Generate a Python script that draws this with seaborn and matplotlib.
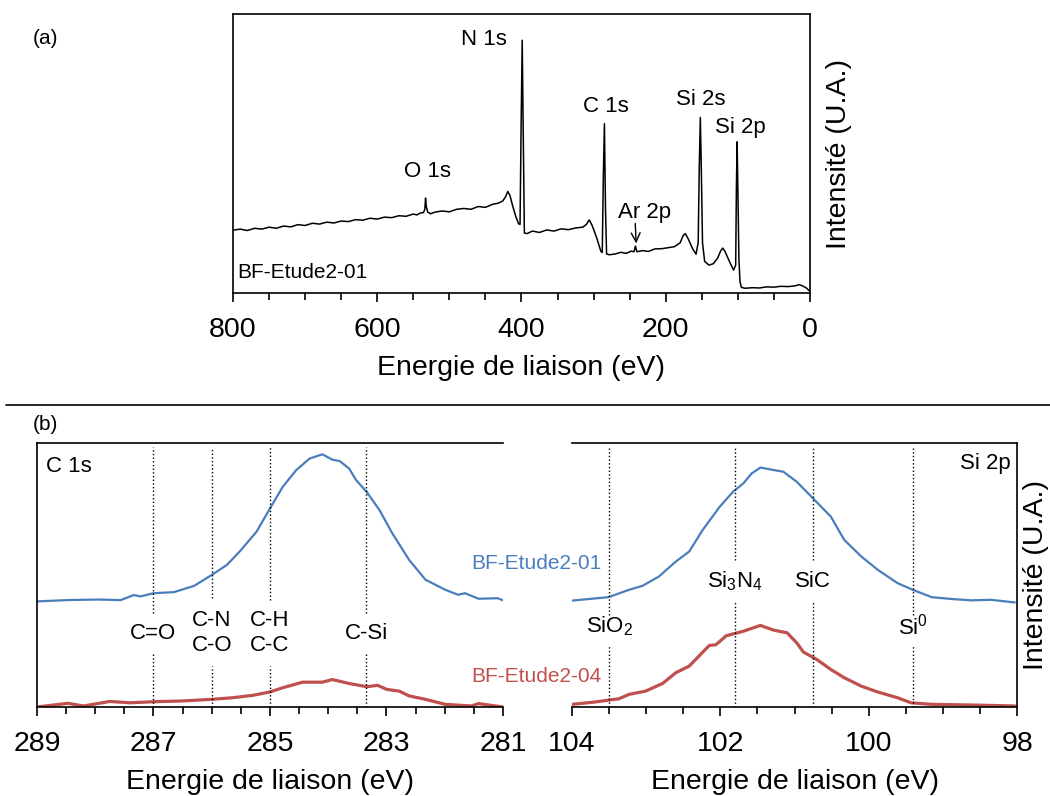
# XPS SPECTRA - SURVEY (a) AND HIGH RESOLUTION C 1s / Si 2p (b)

import matplotlib
matplotlib.use("Agg")
import matplotlib.pyplot as plt
from matplotlib.ticker import MultipleLocator
import seaborn as sns

# DATA

# survey spectrum, BF-Etude2-01 (intensity in arbitrary units)
survey_ev = [800, 790, 780, 770, 760, 750, 740, 730, 720, 710, 700, 690, 680,
             670, 660, 650, 640, 630, 620, 610, 600, 590, 580, 570, 560, 550,
             545, 540, 536, 534, 533, 532, 530, 526, 520, 510, 500, 490, 480,
             470, 460, 450, 440, 432, 426, 422, 419, 416, 412, 408, 404, 402,
             400.5, 399, 397.5, 396, 392, 385, 375, 365, 355, 345, 335, 325,
             315, 310, 306, 302, 296, 290, 288, 286.5, 285, 283.5, 282, 278,
             270, 262, 255, 248, 244, 242, 240, 232, 224, 215, 205, 195, 188,
             180, 176, 173, 169, 163, 158, 155, 153.5, 152, 150.5, 149, 146,
             140, 134, 128, 124, 121, 118, 112, 106, 103, 102, 101, 100, 98.5,
             97, 95, 90, 80, 70, 60, 50, 40, 30, 20, 15, 10, 5, 0]
survey_int = [0.225, 0.229, 0.224, 0.232, 0.229, 0.236, 0.232, 0.240, 0.237,
              0.245, 0.242, 0.250, 0.247, 0.254, 0.251, 0.258, 0.256, 0.263,
              0.261, 0.268, 0.265, 0.272, 0.270, 0.277, 0.275, 0.283, 0.280,
              0.287, 0.288, 0.300, 0.340, 0.310, 0.290, 0.284, 0.290, 0.294,
              0.291, 0.300, 0.303, 0.300, 0.310, 0.307, 0.318, 0.322, 0.330,
              0.345, 0.364, 0.350, 0.310, 0.275, 0.248, 0.246, 0.600, 0.906,
              0.550, 0.215, 0.213, 0.222, 0.217, 0.226, 0.222, 0.230, 0.227,
              0.233, 0.236, 0.246, 0.262, 0.242, 0.200, 0.150, 0.145, 0.420,
              0.607, 0.300, 0.140, 0.137, 0.140, 0.146, 0.142, 0.150, 0.148,
              0.168, 0.148, 0.152, 0.149, 0.158, 0.159, 0.163, 0.166, 0.180,
              0.205, 0.213, 0.195, 0.160, 0.139, 0.180, 0.450, 0.629, 0.420,
              0.180, 0.113, 0.100, 0.105, 0.125, 0.150, 0.161, 0.150, 0.115,
              0.082, 0.100, 0.380, 0.542, 0.380, 0.120, 0.040, 0.020, 0.017,
              0.019, 0.018, 0.022, 0.021, 0.024, 0.023, 0.026, 0.030, 0.025,
              0.018, 0.006]
survey_ticks = [800, 600, 400, 200, 0]

survey_labels = ["O 1s", "N 1s", "C 1s", "Si 2s", "Si 2p"]
survey_label_ev = [531, 452, 283, 151, 96]
survey_label_int = [0.434, 0.907, 0.67, 0.692, 0.595]

# C 1s region
c1s_ev_01 = [289, 288.47, 287.96, 287.56, 287.34, 287.22, 287.0, 286.65,
             286.3, 286.0, 285.74, 285.52, 285.23, 285.0, 284.78, 284.55,
             284.32, 284.1, 283.93, 283.8, 283.64, 283.52, 283.34, 283.12,
             282.9, 282.61, 282.33, 281.99, 281.77, 281.65, 281.42, 281.09,
             281.0]
c1s_int_01 = [0.400, 0.405, 0.407, 0.405, 0.424, 0.419, 0.431, 0.435, 0.459,
              0.500, 0.538, 0.589, 0.664, 0.752, 0.834, 0.897, 0.941, 0.957,
              0.937, 0.931, 0.903, 0.859, 0.815, 0.746, 0.658, 0.557, 0.482,
              0.444, 0.425, 0.431, 0.410, 0.412, 0.404]
c1s_ev_04 = [289, 288.47, 288.2, 287.75, 287.4, 287.0, 286.5, 286.0, 285.65,
             285.3, 285.0, 284.78, 284.44, 284.1, 283.93, 283.64, 283.34,
             283.15, 283.0, 282.78, 282.61, 282.33, 281.99, 281.54, 281.42,
             281.0]
c1s_int_04 = [0.000, 0.014, 0.004, 0.021, 0.016, 0.020, 0.023, 0.029, 0.035,
              0.044, 0.057, 0.073, 0.094, 0.094, 0.104, 0.089, 0.077, 0.082,
              0.067, 0.060, 0.042, 0.029, 0.010, 0.004, 0.013, 0.000]
c1s_ticks = [289, 287, 285, 283, 281]
c1s_bonds = ["C=O", "C-N\nC-O", "C-H\nC-C", "C-Si"]
c1s_bond_ev = [287.0, 286.0, 285.0, 283.35]

# Si 2p region
si_ev_01 = [104.0, 103.51, 103.23, 103.05, 102.83, 102.6, 102.42, 102.24,
            102.01, 101.83, 101.69, 101.58, 101.46, 101.33, 101.15, 100.97,
            100.75, 100.51, 100.33, 100.1, 99.88, 99.61, 99.39, 99.15, 98.88,
            98.61, 98.35, 98.03]
si_int_01 = [0.403, 0.416, 0.444, 0.459, 0.494, 0.551, 0.589, 0.670, 0.758,
             0.815, 0.847, 0.884, 0.907, 0.900, 0.891, 0.853, 0.790, 0.721,
             0.633, 0.570, 0.520, 0.469, 0.442, 0.416, 0.409, 0.404, 0.406,
             0.396]
si_ev_04 = [104.0, 103.69, 103.51, 103.37, 103.23, 103.01, 102.78, 102.6,
            102.42, 102.15, 102.06, 101.92, 101.69, 101.46, 101.28, 101.1,
            100.97, 100.88, 100.7, 100.51, 100.33, 100.1, 99.88, 99.61, 99.43,
            99.15, 98.7, 98.03]
si_int_04 = [0.010, 0.019, 0.026, 0.031, 0.048, 0.060, 0.089, 0.130, 0.155,
             0.233, 0.236, 0.270, 0.287, 0.309, 0.291, 0.281, 0.243, 0.208,
             0.180, 0.142, 0.111, 0.079, 0.057, 0.035, 0.016, 0.010, 0.008,
             0.004]
si_ticks = [104, 102, 100, 98]
si_bonds = ["SiO$_2$", "Si$_3$N$_4$", "SiC", "Si$^0$"]
si_bond_ev = [103.5, 101.8, 100.75, 99.4]

# STYLE

sns.set_style("ticks")
plt.rcParams['font.family'] = ['Liberation Sans', 'DejaVu Sans']
plt.rcParams['mathtext.fontset'] = 'custom'
plt.rcParams['mathtext.rm'] = 'Liberation Sans'
plt.rcParams['mathtext.it'] = 'Liberation Sans:italic'
plt.rcParams['text.color'] = 'black'
plt.rcParams['axes.labelcolor'] = 'black'
plt.rcParams['xtick.color'] = 'black'
plt.rcParams['axes.edgecolor'] = 'black'

blue = '#4a7ebb'
red = '#c0504d'

fig = plt.figure(figsize=(10.5, 7.96), dpi=100)

ax_a = fig.add_axes([0.2219, 0.6319, 0.5495, 0.3505])
ax_c = fig.add_axes([0.0352, 0.1118, 0.4438, 0.3317])
ax_s = fig.add_axes([0.5448, 0.1118, 0.4238, 0.3317])


def style_axis(ax, ticks, minor):
    ax.set_xticks(ticks)
    ax.xaxis.set_minor_locator(MultipleLocator(minor))
    ax.tick_params(axis='x', which='both', direction='out', width=1.2,
                   labelsize=20.5, pad=10.5, colors='black')
    ax.tick_params(axis='x', which='major', length=6.5)
    ax.tick_params(axis='x', which='minor', length=5)
    ax.set_yticks([])
    ax.set_ylim(0, 1)
    ax.set_xlabel('Energie de liaison (eV)', fontsize=20.5, labelpad=9)
    for s in ax.spines.values():
        s.set_linewidth(1.2)
        s.set_color('black')


# GRAPH (a) - SURVEY

sns.lineplot(x=survey_ev, y=survey_int, ax=ax_a, color='black', lw=1.1)
style_axis(ax_a, survey_ticks, 50)
ax_a.set_xlim(800, 0)
ax_a.yaxis.set_label_position('right')
ax_a.set_ylabel('Intensité (U.A.)', fontsize=20.5, labelpad=11.5)

for lab, xe, yi in zip(survey_labels, survey_label_ev, survey_label_int):
    ax_a.text(xe, yi, lab, ha='center', va='center', fontsize=16)

ax_a.annotate('Ar 2p', xy=(241, 0.178), xytext=(229, 0.287),
              ha='center', va='center', fontsize=16,
              arrowprops=dict(arrowstyle='->', color='black', lw=1,
                              shrinkA=0, shrinkB=0,
                              patchA=None, relpos=(0.32, 0.0)))
ax_a.text(794, 0.075, 'BF-Etude2-01', ha='left', va='center', fontsize=15)

# GRAPH (b) - C 1s

sns.lineplot(x=c1s_ev_01, y=c1s_int_01, ax=ax_c, color=blue, lw=1.6)
sns.lineplot(x=c1s_ev_04, y=c1s_int_04, ax=ax_c, color=red, lw=2.3)
style_axis(ax_c, c1s_ticks, 0.5)
ax_c.set_xlim(289, 281)
ax_c.spines['right'].set_visible(False)
ax_c.text(288.85, 0.912, 'C 1s', ha='left', va='center', fontsize=16)

c1s_gap_lo = [0.205, 0.155, 0.155, 0.205]
c1s_gap_hi = [0.356, 0.413, 0.406, 0.356]
c1s_text_y = [0.28, 0.28, 0.28, 0.28]
for lab, xe, lo, hi, ty in zip(c1s_bonds, c1s_bond_ev, c1s_gap_lo,
                               c1s_gap_hi, c1s_text_y):
    ax_c.plot([xe, xe], [hi, 0.985], color='black', ls=':', lw=1)
    ax_c.plot([xe, xe], [0, lo], color='black', ls=':', lw=1)
    ax_c.text(xe, ty, lab, ha='center', va='center', fontsize=16,
              linespacing=1.2)

# GRAPH (b) - Si 2p

sns.lineplot(x=si_ev_01, y=si_int_01, ax=ax_s, color=blue, lw=1.6)
sns.lineplot(x=si_ev_04, y=si_int_04, ax=ax_s, color=red, lw=2.3)
style_axis(ax_s, si_ticks, 0.5)
ax_s.set_xlim(104, 98)
ax_s.spines['left'].set_visible(False)
ax_s.yaxis.set_label_position('right')
ax_s.set_ylabel('Intensité (U.A.)', fontsize=20.5, labelpad=4)
ax_s.text(98.08, 0.922, 'Si 2p', ha='right', va='center', fontsize=16)

si_gap_lo = [0.236, 0.4, 0.4, 0.236]
si_gap_hi = [0.35, 0.557, 0.557, 0.35]
si_text_y = [0.306, 0.475, 0.475, 0.306]
for lab, xe, lo, hi, ty in zip(si_bonds, si_bond_ev, si_gap_lo,
                               si_gap_hi, si_text_y):
    ax_s.plot([xe, xe], [hi, 0.985], color='black', ls=':', lw=1)
    ax_s.plot([xe, xe], [0, lo], color='black', ls=':', lw=1)
    ax_s.text(xe, ty, lab, ha='center', va='center', fontsize=16)

# FIGURE TEXT AND SEPARATOR

fig.text(0.043, 0.952, '(a)', ha='center', va='center', fontsize=15)
fig.text(0.043, 0.467, '(b)', ha='center', va='center', fontsize=15)
fig.text(0.4486, 0.2915, 'BF-Etude2-01', color=blue, ha='left',
         va='center', fontsize=15)
fig.text(0.4486, 0.1495, 'BF-Etude2-04', color=red, ha='left',
         va='center', fontsize=15)
fig.add_artist(plt.Line2D([0.006, 1.0], [0.4912, 0.4912],
                          transform=fig.transFigure, color='black', lw=1.2))

fig.savefig('out.png', dpi=100)
